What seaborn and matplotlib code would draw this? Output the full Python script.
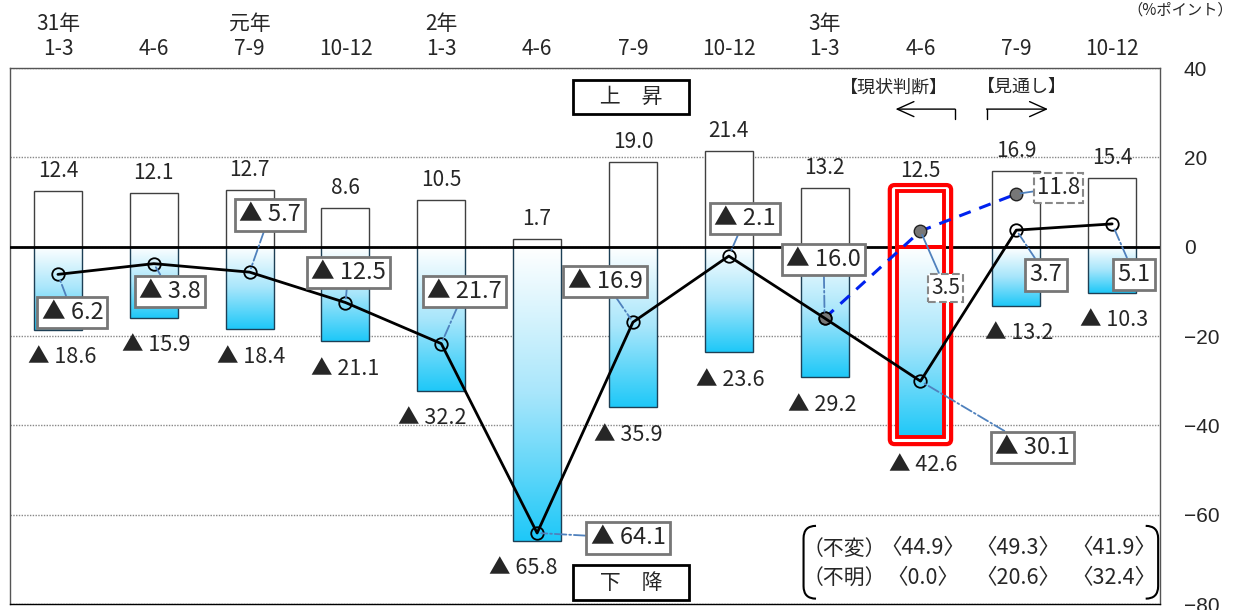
import numpy as np
import matplotlib
matplotlib.use("Agg")
import matplotlib.pyplot as plt
import seaborn as sns
from matplotlib.colors import LinearSegmentedColormap
from matplotlib.patches import FancyBboxPatch, PathPatch
from matplotlib.path import Path

# quarters (top axis)
quarters = ['1-3', '4-6', '7-9', '10-12', '1-3', '4-6', '7-9', '10-12',
            '1-3', '4-6', '7-9', '10-12']
year_labels = {0: '31年', 2: '元年', 4: '2年', 8: '3年'}

# share of "上昇" / "下降" answers and the BSI
rise = [12.4, 12.1, 12.7, 8.6, 10.5, 1.7, 19.0, 21.4, 13.2, 12.5, 16.9, 15.4]
fall = [-18.6, -15.9, -18.4, -21.1, -32.2, -65.8, -35.9, -23.6, -29.2, -42.6, -13.2, -10.3]
bsi = [-6.2, -3.8, -5.7, -12.5, -21.7, -64.1, -16.9, -2.1, -16.0, -30.1, 3.7, 5.1]

# previous survey outlook
prev_idx = [8, 9, 10]
prev_bsi = [-16.0, 3.5, 11.8]

# (不変) / (不明) for the last three quarters
extra_idx = [9, 10, 11]
unchanged = [44.9, 49.3, 41.9]
unknown = [0.0, 20.6, 32.4]

# where the boxed BSI labels sit, relative to their point
bsi_offsets = [(0.15, -8.5), (0.17, -6.2), (0.21, 12.8), (0.03, 6.7), (0.24, 11.7),
               (0.95, -1.1), (-0.29, 9.1), (0.17, 8.4), (-0.01, 13.1), (1.17, -14.9),
               (0.31, -10.0), (0.23, -11.3)]
prev_offsets = [None, (0.26, -12.7), (0.44, 1.4)]
fall_dx = [0.04, 0.03, 0.02, 0.0, -0.09, -0.14, -0.05, 0.01, -0.03, 0.03, 0.03, 0.02]

sns.set_theme(style='white')
plt.rcParams['font.family'] = ['Noto Sans CJK JP', 'DejaVu Sans']


def fmt(v):
    return f'▲ {abs(v):.1f}' if v < 0 else f'{v:.1f}'


idx = np.arange(len(quarters))
fig = plt.figure(figsize=(12.37, 6.10), dpi=100)
ax = fig.add_axes([0.0081, 0.0098, 0.9297, 0.8787])

# bars
sns.barplot(x=idx, y=rise, color='white', saturation=1, edgecolor='#404040',
            linewidth=1, width=0.5, errorbar=None, ax=ax, zorder=2)
sns.barplot(x=idx, y=fall, color='white', saturation=1, edgecolor='#1d3f55',
            linewidth=1, width=0.5, errorbar=None, ax=ax, zorder=2)

# gradient fill for the "下降" bars
cmap = LinearSegmentedColormap.from_list('fall', ['#ffffff', '#a8e6fb', '#1ec8f8'])
grad = np.linspace(0, 1, 256).reshape(-1, 1)
n = len(quarters)
for p in ax.patches[n:2 * n]:
    x0, w, h = p.get_x(), p.get_width(), p.get_height()
    im = ax.imshow(grad, extent=[x0, x0 + w, h, 0], origin='upper', cmap=cmap,
                   aspect='auto', zorder=2, interpolation='bicubic')
    im.set_clip_path(p)
    p.set_facecolor('none')
    p.set_zorder(2.5)

# highlight current quarter
for p in (ax.patches[9], ax.patches[n + 9]):
    p.set_edgecolor('#ff0000')
    p.set_linewidth(2.8)
    p.set_zorder(3.5)
hl = FancyBboxPatch((8.68, -44.2), 0.64, 58.0, boxstyle='round,pad=0,rounding_size=0.05',
                    mutation_aspect=22, fc='none', ec='#ff0000', lw=3, zorder=3.5)
ax.add_patch(hl)

ax.axhline(0, color='black', lw=2, zorder=3)

# BSI line and previous outlook
sns.lineplot(x=prev_idx, y=prev_bsi, color='#0022ee', lw=2.2, linestyle=(0, (4, 3)),
             marker='o', markersize=9, markerfacecolor='#777777',
             markeredgecolor='#222222', markeredgewidth=1, ax=ax, zorder=4)
sns.lineplot(x=idx, y=bsi, color='black', lw=2, marker='o', markersize=9,
             markerfacecolor='none', markeredgecolor='black', markeredgewidth=1.3,
             ax=ax, zorder=5)

# value labels
for i in idx:
    ax.text(i, rise[i] + 4.5, fmt(rise[i]), ha='center', va='center', fontsize=15, zorder=6)
    ax.text(i + fall_dx[i], fall[i] - 6.2, fmt(fall[i]), ha='center', va='center',
            fontsize=15.5, zorder=6)

lead = dict(arrowstyle='-', color='#4f81bd', lw=1.3, linestyle='-.', shrinkA=0, shrinkB=3)
for i in idx:
    dx, dy = bsi_offsets[i]
    ax.annotate(fmt(bsi[i]), xy=(i, bsi[i]), xytext=(i + dx, bsi[i] + dy),
                ha='center', va='center', fontsize=17, zorder=7,
                bbox=dict(boxstyle='square,pad=0.18', fc='white', ec='#777777', lw=2),
                arrowprops=lead)
for k, i in enumerate(prev_idx):
    if prev_offsets[k] is None:
        continue
    dx, dy = prev_offsets[k]
    ax.annotate(fmt(prev_bsi[k]), xy=(i, prev_bsi[k]), xytext=(i + dx, prev_bsi[k] + dy),
                ha='center', va='center', fontsize=16 if k == 2 else 15, zorder=7,
                bbox=dict(boxstyle='square,pad=0.15', fc='white', ec='#888888', lw=1.5,
                          linestyle='--'),
                arrowprops=dict(lead, linestyle='-'))

# 上昇 / 下降 boxes
for y, s in ((33.5, '　上　昇　'), (-75.2, '　下　降　')):
    ax.text(5.98, y, s, ha='center', va='center', fontsize=15, zorder=7,
            bbox=dict(boxstyle='square,pad=0.3', fc='white', ec='black', lw=2))

# 現状判断 / 見通し
ax.text(8.72, 35.7, '【現状判断】', ha='center', va='center', fontsize=13)
ax.text(10.06, 35.7, '【見通し】', ha='center', va='center', fontsize=13)
arrow = dict(arrowstyle='->,head_length=1.0,head_width=0.45', color='black', lw=1,
             shrinkA=0, shrinkB=0)
ax.annotate('', xy=(8.74, 30.8), xytext=(9.36, 30.8), arrowprops=arrow)
ax.annotate('', xy=(10.33, 30.8), xytext=(9.69, 30.8), arrowprops=arrow)
ax.plot([9.36, 9.36], [28.6, 30.8], color='black', lw=1)
ax.plot([9.69, 9.69], [28.6, 30.8], color='black', lw=1)

# (不変) / (不明) table with parentheses-shaped bracket
ax.text(8.20, -67.6, '（不変）', ha='center', va='center', fontsize=15)
ax.text(8.20, -74.3, '（不明）', ha='center', va='center', fontsize=15)
for k, i in enumerate(extra_idx):
    ax.text(i + 0.02, -67.6, f'〈{unchanged[k]:.1f}〉', ha='center', va='center', fontsize=15.5)
    ax.text(i + 0.02, -74.3, f'〈{unknown[k]:.1f}〉', ha='center', va='center', fontsize=15.5)
xl, xr, top, bot, rx, ry = 7.78, 11.48, -62.5, -78.8, 0.13, 2.8
for xe, sgn in ((xl, 1), (xr, -1)):
    verts = [(xe + sgn * rx, top), (xe, top), (xe, top - ry), (xe, bot + ry),
             (xe, bot), (xe + sgn * rx, bot)]
    codes = [Path.MOVETO, Path.CURVE3, Path.CURVE3, Path.LINETO, Path.CURVE3, Path.CURVE3]
    ax.add_patch(PathPatch(Path(verts, codes), fc='none', ec='black', lw=1.5, zorder=6))

# axes
ax.set_xlim(-0.5, 11.5)
ax.set_ylim(-80, 40)
ax.set_yticks(range(-80, 41, 20))
ax.grid(axis='y', linestyle=(0, (1, 1)), color='#888888', lw=1)
ax.set_axisbelow(True)
ax.yaxis.tick_right()
ax.tick_params(axis='y', length=0, pad=17, labelsize=15)
for lab in ax.get_yticklabels():
    lab.set_fontfamily('Liberation Sans')
    lab.set_horizontalalignment('left')
ax.set_xticks(idx)
ax.set_xticklabels(quarters)
ax.xaxis.tick_top()
ax.tick_params(axis='x', length=0, pad=6, labelsize=15)
for i, s in year_labels.items():
    ax.text(i, 49.8, s, ha='center', va='center', fontsize=15, clip_on=False)
ax.set_xlabel('')
ax.set_ylabel('')
for sp in ax.spines.values():
    sp.set_color('#555555')
    sp.set_linewidth(1)
ax.spines['bottom'].set_color('black')

fig.text(0.997, 0.998, '（%ポイント）', ha='right', va='top', fontsize=11)

fig.savefig('out.png', dpi=100)
